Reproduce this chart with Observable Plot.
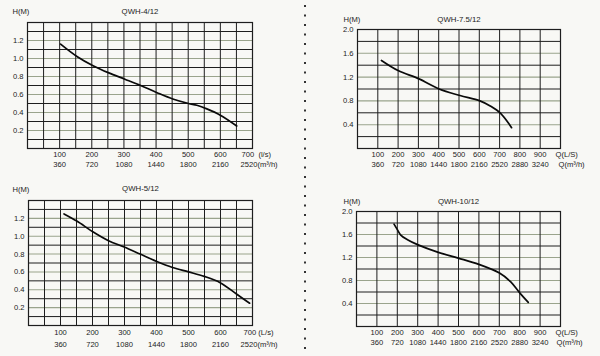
<!DOCTYPE html>
<html>
<head>
<meta charset="utf-8">
<script src="https://cdn.jsdelivr.net/npm/d3@7"></script>
<script src="https://cdn.jsdelivr.net/npm/@observablehq/plot@0.6"></script>
<style>
  html, body { margin: 0; padding: 0; background: #f8f8f5; }
  #wrap { position: relative; width: 600px; height: 356px; overflow: hidden; font-family: "Liberation Sans", Arial, sans-serif; }
  #wrap > .panel { position: absolute; }
  #wrap svg { background: transparent !important; }
</style>
</head>
<body>
<div id="wrap"></div>
<script>
// ---- Data ----
// QWH-4/12
const q4 = [103, 155, 204, 253, 303, 352, 403, 452, 501, 527, 558, 600, 651];
const h4 = [1.16, 1.02, 0.92, 0.84, 0.77, 0.70, 0.62, 0.55, 0.50, 0.48, 0.44, 0.37, 0.25];
// QWH-7.5/12
const q75 = [118, 200, 303, 402, 505, 603, 656, 705, 759];
const h75 = [1.48, 1.31, 1.17, 1.00, 0.89, 0.80, 0.71, 0.59, 0.35];
// QWH-5/12
const q5 = [111, 151, 201, 250, 299, 349, 399, 450, 500, 549, 599, 651, 691];
const h5 = [1.25, 1.17, 1.05, 0.95, 0.88, 0.80, 0.72, 0.65, 0.60, 0.55, 0.48, 0.35, 0.25];
// QWH-10/12
const q10 = [184, 201, 217, 250, 302, 401, 499, 600, 701, 755, 801, 842];
const h10 = [1.78, 1.68, 1.59, 1.51, 1.42, 1.29, 1.19, 1.08, 0.93, 0.78, 0.58, 0.42];

// tick labels, small panels (0-700 L/s)
const lsTicksA = [100, 200, 300, 400, 500, 600];
const m3hLabelsA = ["360", "720", "1080", "1440", "1800", "2160"];
const hTicksA = [0.2, 0.4, 0.6, 0.8, 1.0, 1.2];
// tick labels, large panels (0-1000 L/s)
const lsTicksB = [100, 200, 300, 400, 500, 600, 700, 800, 900];
const m3hLabelsB = ["360", "720", "1080", "1440", "1800", "2160", "2520", "2880", "3240"];
const hTicksB = [0.4, 0.8, 1.2, 1.6, 2.0];

const FS = 7.6;
const DARK = "#1e1e1e";
const LIGHT = "#9aa48c";

function panel(opts) {
  const {left, top, width, height, margins, xMax, xStep, yMax, yStep, labelYs,
         q, h, title, titleDy, hmDx, hmDy, lsTicks, m3h, hTicks,
         row1, row2, lastLs, lastM3, lastLsDx, lastM3Dx, lastAt} = opts;
  const curve = q.map((d, i) => ({q: d, h: h[i]}));
  const vlines = d3.range(0, xMax + 1e-9, xStep);
  const hlines = d3.range(0, yMax + 1e-9, yStep).map(v => +v.toFixed(2));
  const darkH = hlines.filter(v => !labelYs.includes(v) && v > 0 && v < yMax);
  const lightH = hlines.filter(v => labelYs.includes(v) && v < yMax);
  const t = {fill: "#222", lineAnchor: "middle"};
  const p = Plot.plot({
    width, height,
    marginLeft: margins[0], marginRight: margins[1], marginTop: margins[2], marginBottom: margins[3],
    style: {fontFamily: "Liberation Sans, Arial, sans-serif", fontSize: FS + "px", background: "transparent", color: "#222"},
    x: {domain: [0, xMax], axis: null},
    y: {domain: [0, yMax], axis: null},
    marks: [
      Plot.ruleY(lightH, {y: d => d, stroke: LIGHT, strokeWidth: 1.1}),
      Plot.ruleY(darkH, {y: d => d, stroke: DARK, strokeWidth: 1}),
      Plot.ruleX(vlines.filter(v => v > 0 && v < xMax), {x: d => d, stroke: DARK, strokeWidth: 1}),
      Plot.frame({stroke: DARK, strokeWidth: 1.2}),
      Plot.line(curve, {x: "q", y: "h", curve: "catmull-rom", stroke: "#0a0a0a", strokeWidth: 1.7}),
      // y tick labels
      Plot.text(hTicks, {...t, x: 0, y: d => d, text: d => d.toFixed(1), textAnchor: "end", dx: -4}),
      // x tick labels row 1 (L/s)
      Plot.text(lsTicks, {...t, x: d => d, frameAnchor: "bottom", dy: row1, text: d => String(d)}),
      // x tick labels row 2 (m3/h)
      Plot.text(lsTicks, {...t, x: d => d, frameAnchor: "bottom", dy: row2, text: (d, i) => m3h[i]}),
      // unit labels
      Plot.text([lastAt], {...t, x: d => d, frameAnchor: "bottom", dy: row1, dx: lastLsDx, text: [lastLs], textAnchor: "start"}),
      Plot.text([lastAt], {...t, x: d => d, frameAnchor: "bottom", dy: row2, dx: lastM3Dx, text: [lastM3], textAnchor: "start"}),
      // title
      Plot.text([title], {...t, frameAnchor: "top", dy: titleDy, text: d => d, fontSize: FS + 0.2}),
      // H(M)
      Plot.text(["H(M)"], {...t, frameAnchor: "top-left", dx: hmDx, dy: hmDy, text: d => d, textAnchor: "start"})
    ]
  });
  const div = document.createElement("div");
  div.className = "panel";
  div.style.left = left + "px";
  div.style.top = top + "px";
  div.appendChild(p);
  document.getElementById("wrap").appendChild(div);
}

panel({left: 0, top: 0, width: 300, height: 178, margins: [27, 48, 22, 30],
  xMax: 700, xStep: 50, yMax: 1.4, yStep: 0.1, labelYs: [0.2, 0.4, 0.6, 0.8, 1.0, 1.2],
  q: q4, h: h4, title: "QWH-4/12", titleDy: -11, hmDx: -15, hmDy: -11,
  lsTicks: lsTicksA, m3h: m3hLabelsA, hTicks: hTicksA, row1: 6.5, row2: 16.5,
  lastAt: 700, lastLs: "700  (l/s)", lastM3: "2520(m³/h)", lastLsDx: -11, lastM3Dx: -12});

panel({left: 300, top: 0, width: 300, height: 178, margins: [57, 40, 29, 30],
  xMax: 1000, xStep: 100, yMax: 2.0, yStep: 0.2, labelYs: [0.4, 0.8, 1.2, 1.6],
  q: q75, h: h75, title: "QWH-7.5/12", titleDy: -10, hmDx: -14, hmDy: -9.5,
  lsTicks: lsTicksB, m3h: m3hLabelsB, hTicks: hTicksB, row1: 6, row2: 16,
  lastAt: 1000, lastLs: "Q(L/S)", lastM3: "Q(m³/h)", lastLsDx: -5, lastM3Dx: -2});

panel({left: 0, top: 178, width: 300, height: 178, margins: [28, 48, 22, 31],
  xMax: 700, xStep: 50, yMax: 1.4, yStep: 0.1, labelYs: [0.2, 0.4, 0.6, 0.8, 1.0, 1.2],
  q: q5, h: h5, title: "QWH-5/12", titleDy: -12, hmDx: -16, hmDy: -11,
  lsTicks: lsTicksA, m3h: m3hLabelsA, hTicks: hTicksA, row1: 7.5, row2: 19,
  lastAt: 700, lastLs: "700 (L/s)", lastM3: "2520(m³/h)", lastLsDx: -9, lastM3Dx: -12});

panel({left: 300, top: 178, width: 300, height: 178, margins: [56, 40, 33, 30],
  xMax: 1000, xStep: 100, yMax: 2.0, yStep: 0.2, labelYs: [0.4, 0.8, 1.2, 1.6],
  q: q10, h: h10, title: "QWH-10/12", titleDy: -10.5, hmDx: -13, hmDy: -9.5,
  lsTicks: lsTicksB, m3h: m3hLabelsB, hTicks: hTicksB, row1: 6, row2: 16,
  lastAt: 1000, lastLs: "Q(L/S)", lastM3: "Q(m³/h)", lastLsDx: -5, lastM3Dx: -4});

// dotted divider
const ns = "http://www.w3.org/2000/svg";
const sv = document.createElementNS(ns, "svg");
sv.setAttribute("width", 600); sv.setAttribute("height", 356);
sv.style.position = "absolute"; sv.style.left = "0"; sv.style.top = "0"; sv.style.pointerEvents = "none";
const ln = document.createElementNS(ns, "line");
ln.setAttribute("x1", 305); ln.setAttribute("x2", 305); ln.setAttribute("y1", 5); ln.setAttribute("y2", 352);
ln.setAttribute("stroke", "#333"); ln.setAttribute("stroke-width", 2); ln.setAttribute("stroke-dasharray", "2 7.5");
sv.appendChild(ln);
document.getElementById("wrap").appendChild(sv);
</script>
</body>
</html>
